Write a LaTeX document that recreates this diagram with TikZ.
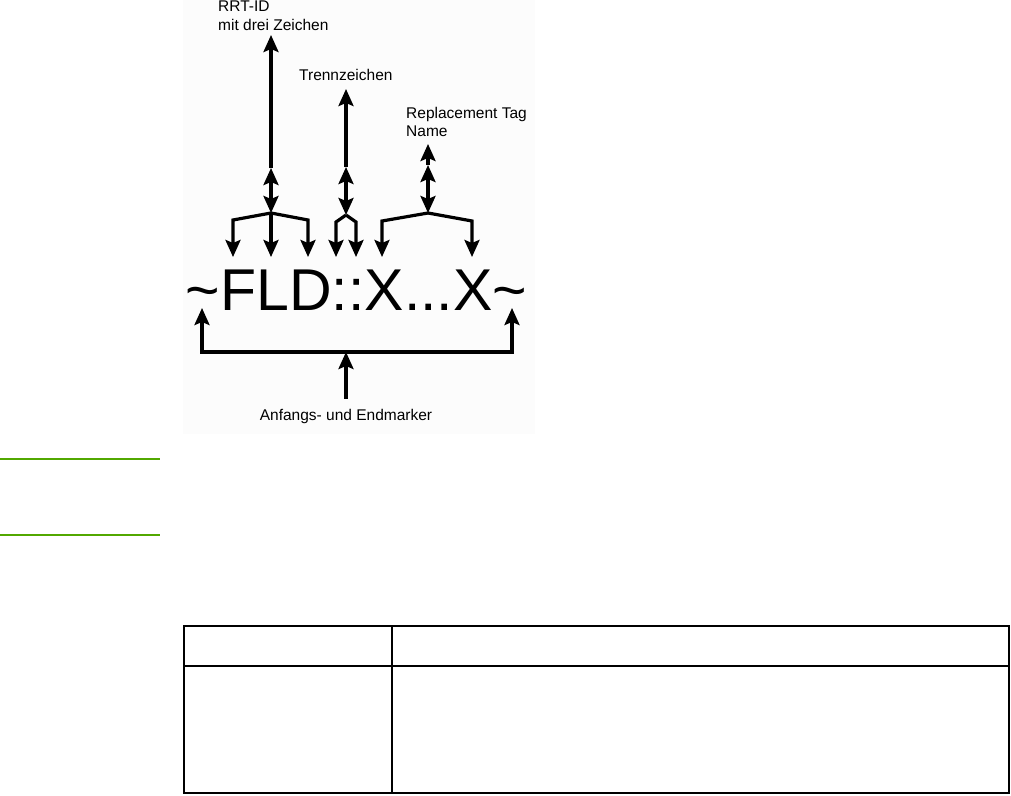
\documentclass[tikz,border=0pt]{standalone}
\usepackage{fontspec}
\setmainfont{Liberation Sans}
\usetikzlibrary{arrows.meta}

\definecolor{hpgreen}{RGB}{82,168,0}

\begin{document}
\begin{tikzpicture}[x=1pt,y=-1pt,>={Stealth[length=17pt,width=15pt,inset=3pt]},
  arr/.style={->,line width=3.2pt},
  dbl/.style={<->,line width=3.2pt},
  lbl/.style={anchor=base west,inner sep=0pt,align=left,font=\fontsize{15.5}{18}\selectfont},
  tbl/.style={line width=2pt}]
\useasboundingbox (0,0) rectangle (1011,795);
\fill[black!1] (183,0) rectangle (535,434);

% the tag string
\node[anchor=base,inner sep=0pt,font=\fontsize{59}{60}\selectfont] (fld) at (356.5,310)
  {\textasciitilde FLD::X...X\textasciitilde};

% labels (base = last line)
\node[lbl] (rrt) at (218,30) {RRT-ID\\mit drei Zeichen};
\node[lbl] (trenn) at (299,80) {Trennzeichen};
\node[lbl] (repl) at (406,136) {Replacement Tag\\Name};
\node[lbl,anchor=base] (mark) at (346,420) {Anfangs- und Endmarker};

% RRT-ID
\coordinate (j1) at (271,213);
\coordinate (m1) at (271,168);
\coordinate (t1) at (271,35);
\draw[dbl] (j1) -- (m1);
\draw[arr] (m1) -- (t1);
\draw[arr] (j1) -- (233,220) -- (233,257);
\draw[arr] (j1) -- (271,257);
\draw[arr] (j1) -- (308,220) -- (308,257);

% Trennzeichen
\coordinate (j2) at (346,215);
\coordinate (m2) at (346,167);
\coordinate (t2) at (346,89);
\draw[dbl] (j2) -- (m2);
\draw[arr] (m2) -- (t2);
\draw[arr] (j2) -- (336,222) -- (336,257);
\draw[arr] (j2) -- (356,222) -- (356,257);

% Replacement Tag Name
\coordinate (j3) at (428,213);
\coordinate (m3) at (428,165);
\coordinate (t3) at (428,144);
\draw[dbl] (j3) -- (m3);
\draw[arr] (m3) -- (t3);
\draw[arr] (j3) -- (382,221) -- (382,257);
\draw[arr] (j3) -- (472,221) -- (472,257);

% start and end marker
\coordinate (eL) at (202,308);
\coordinate (eR) at (512,308);
\coordinate (b) at (346,352);
\draw[dbl] (eL) -- (202,352) -- (512,352) -- (eR);
\draw[arr,shorten <=10pt] (mark.north) -- (b);

% green rules
\draw[hpgreen,line width=2pt] (0,459) -- (160,459);
\draw[hpgreen,line width=2pt] (0,535) -- (160,535);

% empty table
\draw[tbl] (184,626) rectangle (1009,792.5);
\draw[tbl] (184,665.5) -- (1009,665.5);
\draw[tbl] (391.5,626) -- (391.5,792.5);
\end{tikzpicture}
\end{document}
